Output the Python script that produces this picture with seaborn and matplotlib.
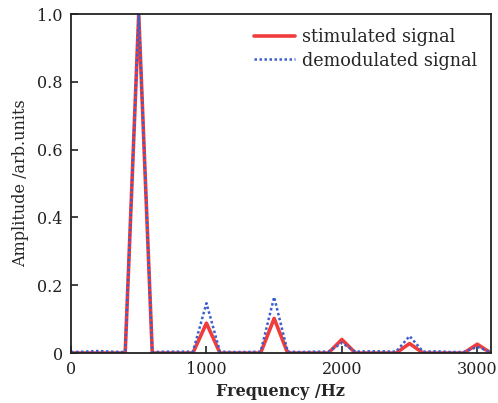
import numpy as np
import pandas as pd
import matplotlib
matplotlib.use("Agg")
import matplotlib.pyplot as plt
import seaborn as sns

# Frekvenser (Hz), sampling var 100:e Hz
freq = [0, 100, 200, 300, 400, 500, 600, 700, 800, 900, 1000, 1100, 1200, 1300,
        1400, 1500, 1600, 1700, 1800, 1900, 2000, 2100, 2200, 2300, 2400, 2500,
        2600, 2700, 2800, 2900, 3000, 3100]
stimulated = [0, 0, 0, 0, 0, 1.0, 0, 0, 0, 0, 0.088, 0, 0, 0,
              0, 0.102, 0, 0, 0, 0, 0.04, 0, 0, 0, 0, 0.028,
              0, 0, 0, 0, 0.026, 0]
demodulated = [0.003, 0.004, 0.006, 0.004, 0.003, 1.0, 0.003, 0.004, 0.004, 0.004, 0.147, 0.004, 0.003, 0.003,
               0.004, 0.165, 0.004, 0.003, 0.004, 0.004, 0.03, 0.004, 0.005, 0.005, 0.004, 0.05,
               0.004, 0.005, 0.003, 0.003, 0.018, 0.003]

df = pd.DataFrame({"freq": freq, "stim": stimulated, "demod": demodulated})

sns.set_theme(style="ticks")
plt.rcParams["font.family"] = ["DejaVu Serif"]

fig = plt.figure(figsize=(4.98, 4.03), dpi=100)
ax = fig.add_axes([0.1426, 0.124, 0.843, 0.841])

sns.lineplot(data=df, x="freq", y="stim", ax=ax, color="#f03c3c", linewidth=2.6,
             label="stimulated signal")
sns.lineplot(data=df, x="freq", y="demod", ax=ax, color="#3a5fcd", linewidth=1.8,
             linestyle=(0, (1, 1.0)), label="demodulated signal")

ax.set_xlim(0, 3100)
ax.set_ylim(0, 1.0)
ax.set_xticks([0, 1000, 2000, 3000])
ax.set_xticklabels(["0", "1000", "2000", "3000"])
ax.set_yticks([0, 0.2, 0.4, 0.6, 0.8, 1.0])
ax.set_yticklabels(["0", "0.2", "0.4", "0.6", "0.8", "1.0"])
ax.tick_params(direction="in", length=5, width=1.2, labelsize=11.5, colors="#222222", pad=6)
for s in ax.spines.values():
    s.set_linewidth(1.3)
    s.set_color("#222222")

ax.set_xlabel("Frequency /Hz", fontsize=11.5, fontweight="bold", labelpad=3)
ax.set_ylabel("Amplitude /arb.units", fontsize=11.5, labelpad=6)

ax.legend(loc="upper right", frameon=False, fontsize=12.7, handlelength=2.3,
          borderaxespad=0.4, labelspacing=0.3, handletextpad=0.4)

fig.savefig("out.png", dpi=100)
